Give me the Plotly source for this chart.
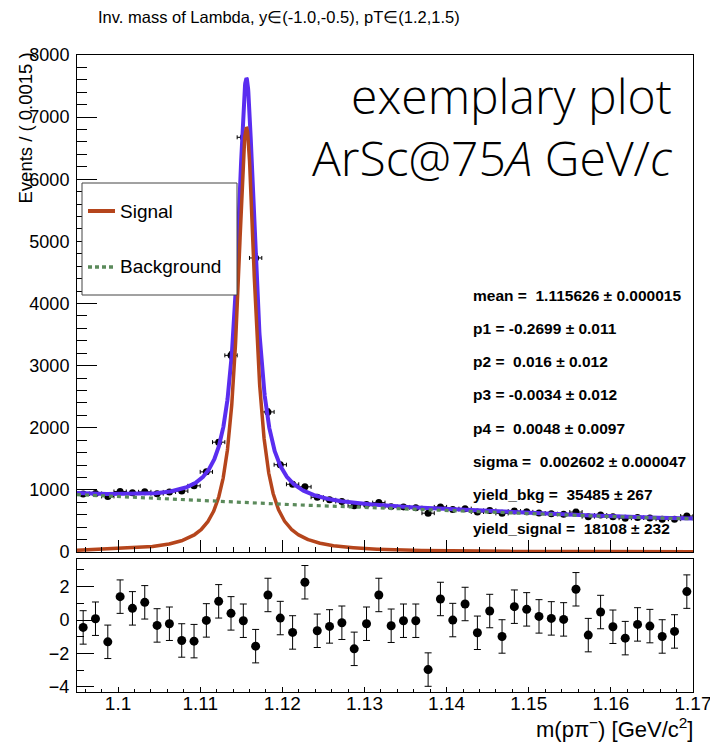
import numpy as np
import plotly.graph_objects as go

# ---------------- data ----------------
x_lo, x_hi = 1.095, 1.17
bin_width = 0.0015
n_bins = 50

counts = [933, 942, 895, 974, 953, 969, 939, 967, 981, 1065,
          1290, 1768, 3165, 6675, 4733, 2255, 1405, 1090, 1049, 881,
          840, 812, 743, 765, 795, 730, 725, 713, 625, 726,
          683, 698, 644, 669, 622, 658, 646, 627, 616, 607,
          643, 569, 595, 566, 544, 557, 548, 528, 529, 579]

pulls = [-0.44, 0.08, -1.30, 1.40, 0.70, 1.06, -0.32, -0.22, -1.22, -1.26,
         -0.02, 1.12, 0.40, -0.04, -1.56, 1.50, 0.12, -0.74, 2.26, -0.64,
         -0.38, -0.16, -1.72, -0.22, 1.50, -0.34, -0.04, -0.04, -2.96, 1.26,
         0.00, 0.96, -0.76, 0.54, -0.98, 0.80, 0.64, 0.22, 0.10, 0.04,
         1.84, -0.90, 0.48, -0.40, -1.08, -0.26, -0.36, -0.98, -0.68, 1.70]

# fit results
mean = 1.115626
sigma = 0.002602
cheb_p = [-0.2699, 0.016, -0.0034, 0.0048]
yield_bkg = 35485
yield_signal = 18108

param_lines = [
    "mean =  1.115626 \u00b1 0.000015",
    "p1 = -0.2699 \u00b1 0.011",
    "p2 =  0.016 \u00b1 0.012",
    "p3 = -0.0034 \u00b1 0.012",
    "p4 =  0.0048 \u00b1 0.0097",
    "sigma =  0.002602 \u00b1 0.000047",
    "yield_bkg =  35485 \u00b1 267",
    "yield_signal =  18108 \u00b1 232",
]

x_tick_vals = [1.10, 1.11, 1.12, 1.13, 1.14, 1.15, 1.16, 1.17]
x_tick_text = ["1.1", "1.11", "1.12", "1.13", "1.14", "1.15", "1.16", "1.17"]

# ---------------- model curves ----------------
bin_centers = x_lo + bin_width * (np.arange(n_bins) + 0.5)
xx = np.linspace(x_lo, x_hi, 3000)

# Chebychev background normalised to its yield (events per bin)
cheb = np.polynomial.chebyshev.Chebyshev([1.0] + cheb_p)
t = 2 * (xx - x_lo) / (x_hi - x_lo) - 1
cheb_int = cheb.integ()(1.0) - cheb.integ()(-1.0)
bkg = yield_bkg * cheb(t) / (cheb_int * (x_hi - x_lo) / 2) * bin_width

# Breit-Wigner signal (FWHM = sigma) normalised to its yield
g = sigma / 2
bw_int = g * (np.arctan((x_hi - mean) / g) - np.arctan((x_lo - mean) / g))
sig = yield_signal / (1 + ((xx - mean) / g) ** 2) / bw_int * bin_width
total = sig + bkg

# ---------------- geometry helpers ----------------
W, H = 710, 742
ML, MR, MT, MB = 77, 17, 55, 50
PW, PH = W - ML - MR, H - MT - MB


def px(x):
    return (x - ML) / PW


def py(y):
    return (H - MB - y) / PH


FONT = "Liberation Sans"
BLUE = "#5a2df0"
RED = "#b5451c"
GREEN = "#5b8a5b"

fig = go.Figure()

# top pad: data + fit
fig.add_trace(go.Scatter(
    x=bin_centers, y=counts, mode="markers",
    marker=dict(color="black", size=7),
    error_x=dict(type="constant", value=bin_width / 2, color="black", thickness=1, width=2),
    error_y=dict(type="data", array=np.sqrt(counts), color="black", thickness=1, width=2),
    xaxis="x", yaxis="y", showlegend=False))
fig.add_trace(go.Scatter(x=xx, y=total, mode="lines", line=dict(color=BLUE, width=4),
                         xaxis="x", yaxis="y", showlegend=False))
fig.add_trace(go.Scatter(x=xx, y=sig, mode="lines", line=dict(color=RED, width=3.5),
                         xaxis="x", yaxis="y", showlegend=False))
fig.add_trace(go.Scatter(x=xx, y=bkg, mode="lines",
                         line=dict(color=GREEN, width=3.2, dash="4px,4px"),
                         xaxis="x", yaxis="y", showlegend=False))

# bottom pad: pulls
fig.add_trace(go.Scatter(
    x=bin_centers, y=pulls, mode="markers",
    marker=dict(color="black", size=9),
    error_y=dict(type="constant", value=1, color="black", thickness=1, width=3.5),
    xaxis="x2", yaxis="y2", showlegend=False))

axis_common = dict(showline=True, linecolor="black", linewidth=1, mirror=True,
                   showgrid=False, zeroline=False, ticks="inside", tickcolor="black",
                   automargin=False, ticklabeloverflow="allow")

fig.update_layout(
    width=W, height=H,
    margin=dict(l=ML, r=MR, t=MT, b=MB, autoexpand=False),
    paper_bgcolor="white", plot_bgcolor="white",
    xaxis=dict(domain=[0, 1], anchor="y", range=[x_lo, x_hi],
               tickvals=x_tick_vals, showticklabels=False, ticklen=12,
               minor=dict(ticks="inside", tick0=1.1, dtick=0.002, ticklen=5, tickcolor="black"),
               **axis_common),
    yaxis=dict(domain=[py(552), 1], anchor="x", range=[0, 8000], dtick=1000,
               ticklen=20, ticklabelstandoff=3,
               tickfont=dict(family=FONT, size=18, color="black"),
               minor=dict(ticks="inside", dtick=200, ticklen=10, tickcolor="black"),
               **axis_common),
    xaxis2=dict(domain=[0, 1], anchor="y2", range=[x_lo, x_hi],
                tickvals=x_tick_vals, ticktext=x_tick_text, ticklen=5,
                ticklabelstandoff=-6,
                tickfont=dict(family=FONT, size=19, color="black"),
                minor=dict(ticks="inside", tick0=1.1, dtick=0.002, ticklen=3, tickcolor="black"),
                **axis_common),
    yaxis2=dict(domain=[0, py(559)], anchor="x2", range=[-4.3, 3.65],
                tickvals=[-4, -2, 0, 2], ticklen=17, ticklabelstandoff=3,
                tickfont=dict(family=FONT, size=18, color="black"),
                minor=dict(ticks="inside", tick0=0, dtick=1, ticklen=7, tickcolor="black"),
                **axis_common),
)

annotations = []
shapes = []

# title and axis titles
annotations.append(dict(text="Inv. mass of Lambda, y\u2208(-1.0,-0.5), pT\u2208(1.2,1.5)",
                        x=px(279), y=py(17), xref="paper", yref="paper",
                        xanchor="center", yanchor="middle", showarrow=False,
                        font=dict(family=FONT, size=16.5, color="black")))
annotations.append(dict(text="Events / ( 0.0015 )", textangle=-90,
                        x=px(25), y=py(51), xref="paper", yref="paper",
                        xanchor="center", yanchor="top", showarrow=False,
                        font=dict(family=FONT, size=18.5, color="black")))
annotations.append(dict(text="m(p\u03c0<sup>\u2212</sup>) [GeV/c<sup>2</sup>]",
                        x=px(695), y=py(728), xref="paper", yref="paper",
                        xanchor="right", yanchor="middle", showarrow=False,
                        font=dict(family=FONT, size=22, color="black")))

# label text, two lines
annotations.append(dict(text="exemplary plot<br>ArSc@75<i>A</i> GeV/<i>c</i>",
                        x=px(675), y=py(127), xref="paper", yref="paper",
                        xanchor="right", yanchor="middle", align="right", showarrow=False,
                        font=dict(family="Open Sans", size=48, color="black", weight=300)))

# fit parameter box
for k, line in enumerate(param_lines):
    annotations.append(dict(text="<b>" + line + "</b>", x=px(471), y=py(295 + 33.3 * k),
                            xref="paper", yref="paper", xanchor="left", yanchor="middle",
                            showarrow=False,
                            font=dict(family=FONT, size=15.5, color="black")))

# legend
shapes.append(dict(type="rect", xref="paper", yref="paper",
                   x0=px(82), x1=px(237), y0=py(295), y1=py(183),
                   fillcolor="white", line=dict(color="#444", width=1), layer="above"))
shapes.append(dict(type="line", xref="paper", yref="paper",
                   x0=px(88), x1=px(115), y0=py(211), y1=py(211),
                   line=dict(color=RED, width=4), layer="above"))
shapes.append(dict(type="line", xref="paper", yref="paper",
                   x0=px(88), x1=px(115), y0=py(267), y1=py(267),
                   line=dict(color=GREEN, width=3.5, dash="4px,3px"), layer="above"))
annotations.append(dict(text="Signal", x=px(118), y=py(211), xref="paper", yref="paper",
                        xanchor="left", yanchor="middle", showarrow=False,
                        font=dict(family=FONT, size=19, color="black")))
annotations.append(dict(text="Background", x=px(118), y=py(266), xref="paper", yref="paper",
                        xanchor="left", yanchor="middle", showarrow=False,
                        font=dict(family=FONT, size=19, color="black")))

fig.update_layout(annotations=annotations, shapes=shapes)
fig.write_html("out.html")
